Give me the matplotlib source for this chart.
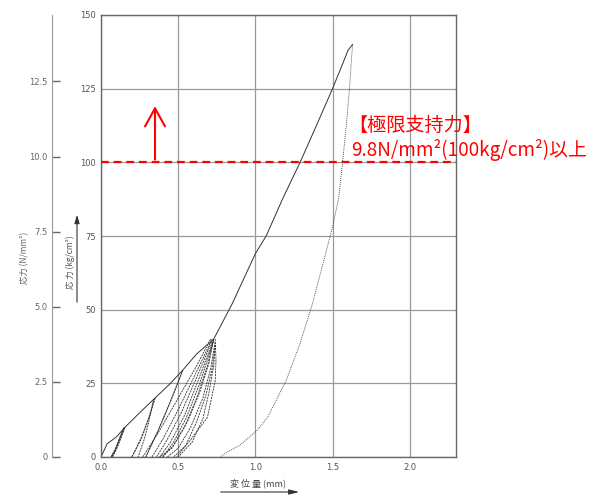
import matplotlib.pyplot as plt

# Load-displacement record (kg/cm2 vs mm)
envelope_x = [0.00, 0.04, 0.10, 0.15, 0.25, 0.35, 0.45, 0.53, 0.62, 0.73,
              0.85, 1.00, 1.07, 1.18, 1.29, 1.40, 1.50, 1.57, 1.60, 1.63]
envelope_y = [0.0, 4.5, 6.8, 9.8, 15.0, 20.0, 25.0, 29.5, 35.0, 40.0,
              52.0, 69.0, 75.0, 88.0, 100.0, 113.0, 125.0, 134.0, 138.0, 140.0]

final_unload_x = [1.63, 1.62, 1.61, 1.59, 1.565, 1.54, 1.50, 1.44, 1.37, 1.29,
                  1.20, 1.08, 1.01, 0.90, 0.82, 0.77]
final_unload_y = [140.0, 133.0, 125.0, 113.0, 100.0, 88.0, 78.0, 66.0, 52.0, 38.6,
                  26.0, 13.5, 9.0, 4.0, 1.7, 0.0]

# repeated unload / reload cycles below the envelope
loops_x = [
    [0.15, 0.13, 0.10, 0.07],
    [0.15, 0.125, 0.095, 0.065],
    [0.07, 0.10, 0.13, 0.155],
    [0.065, 0.095, 0.125, 0.15],
    [0.075, 0.105, 0.135, 0.155],
    [0.35, 0.31, 0.26, 0.20],
    [0.20, 0.26, 0.31, 0.35],
    [0.34, 0.31, 0.28, 0.24],
    [0.53, 0.46, 0.38, 0.29],
    [0.29, 0.37, 0.45, 0.53],
    [0.27, 0.38, 0.50, 0.62, 0.71],
    [0.33, 0.40, 0.50, 0.61, 0.72],
    [0.36, 0.43, 0.52, 0.62, 0.72],
    [0.38, 0.45, 0.54, 0.63, 0.73],
    [0.40, 0.47, 0.55, 0.64, 0.73],
    [0.73, 0.70, 0.64, 0.56, 0.47, 0.40],
    [0.73, 0.69, 0.62, 0.54, 0.46, 0.38],
    [0.74, 0.71, 0.66, 0.58, 0.50, 0.43],
    [0.74, 0.72, 0.68, 0.62, 0.55, 0.47],
    [0.74, 0.73, 0.70, 0.66, 0.59, 0.50],
    [0.74, 0.745, 0.74, 0.69, 0.58, 0.49],
]
loops_y = [
    [10.0, 7.0, 3.0, 0.0],
    [10.0, 6.5, 2.5, 0.0],
    [0.0, 3.5, 7.5, 10.2],
    [0.0, 3.0, 7.0, 10.0],
    [0.0, 3.2, 7.2, 10.0],
    [20.0, 13.0, 6.0, 0.0],
    [0.0, 6.5, 13.5, 20.0],
    [19.5, 12.0, 6.0, 0.0],
    [29.5, 20.0, 10.0, 0.0],
    [0.0, 9.0, 19.0, 29.5],
    [0.0, 9.0, 20.0, 31.0, 40.0],
    [0.0, 6.0, 16.0, 28.0, 40.0],
    [0.0, 6.0, 15.0, 27.0, 39.5],
    [0.0, 5.0, 14.0, 26.0, 40.0],
    [0.0, 5.0, 13.0, 25.0, 39.5],
    [40.0, 32.0, 22.0, 12.0, 4.0, 0.0],
    [40.0, 31.0, 20.0, 10.0, 3.0, 0.0],
    [39.0, 30.0, 20.0, 10.0, 3.0, 0.0],
    [38.0, 30.0, 21.0, 12.0, 4.0, 0.0],
    [38.0, 31.0, 22.0, 13.0, 5.0, 0.0],
    [40.0, 33.0, 26.0, 13.5, 5.8, 0.0],
]

x_ticks = [0.0, 0.5, 1.0, 1.5, 2.0]
x_tick_labels = ['0.0', '0.5', '1.0', '1.5', '2.0']
y_ticks = [0, 25, 50, 75, 100, 125, 150]
y_tick_labels = ['0', '25', '50', '75', '100', '125', '150']
n_ticks = [0, 2.5, 5.0, 7.5, 10.0, 12.5]
n_tick_labels = ['0', '2.5', '5.0', '7.5', '10.0', '12.5']

limit_load = 100      # kg/cm2 (9.8 N/mm2)
arrow_x, arrow_top = 0.35, 120
KG_PER_N = 10.197

cjk = ['Noto Sans CJK JP', 'DejaVu Sans']
W, H = 594, 496


def fx(px):
    return px / W


def fy(py):
    return 1 - py / H


fig = plt.figure(figsize=(W / 100, H / 100), dpi=100)
ax = fig.add_axes([fx(101), fy(457), (456 - 101) / W, (457 - 15) / H])
ax.set_xlim(0, 2.3)
ax.set_ylim(0, 150)

ax.set_xticks(x_ticks)
ax.set_xticklabels(x_tick_labels)
ax.set_yticks(y_ticks)
ax.set_yticklabels(y_tick_labels)
ax.tick_params(length=0, labelsize=6, colors='#555', pad=4)
ax.grid(True, color='#999', lw=0.9)
for s in ax.spines.values():
    s.set_color('#666')
    s.set_linewidth(1.0)

line_kw = dict(color='#333', lw=0.6, ls=(0, (2.5, 1)))
ax.plot(envelope_x, envelope_y, color='#333', lw=0.7)
ax.plot(final_unload_x, final_unload_y, color='#444', lw=0.6, ls=(0, (1.2, 1.2)))
for lx, ly in zip(loops_x, loops_y):
    ax.plot(lx, ly, **line_kw)

# secondary N/mm2 scale on the far left
sec = ax.secondary_yaxis(-49 / 355, functions=(lambda y: y / KG_PER_N,
                                              lambda y: y * KG_PER_N))
sec.set_yticks(n_ticks)
sec.set_yticklabels(n_tick_labels)
sec.tick_params(direction='in', length=6, width=1, colors='#666',
                labelsize=6, pad=3)
sec.spines['left'].set_color('#999')

# axis titles
fig.text(fx(25), fy(258), '応力 (N/mm²)', rotation=90, ha='center',
         va='center', fontsize=6, color='#666', family=cjk)
fig.text(fx(70), fy(262), '応 力 (kg/cm²)', rotation=90, ha='center',
         va='center', fontsize=6, color='#555', family=cjk)
fig.add_artist(plt.matplotlib.patches.FancyArrowPatch(
    (fx(77), fy(305)), (fx(77), fy(212)), transform=fig.transFigure,
    arrowstyle='-|>,head_length=0.5,head_width=0.15', mutation_scale=10,
    color='#333', lw=0.8))
fig.text(fx(258), fy(483), '変 位 量 (mm)', ha='center', va='center',
         fontsize=6.5, color='#444', family=cjk)
fig.add_artist(plt.matplotlib.patches.FancyArrowPatch(
    (fx(218), fy(492)), (fx(302), fy(492)), transform=fig.transFigure,
    arrowstyle='-|>,head_length=0.6,head_width=0.15', mutation_scale=10,
    color='#333', lw=0.8))

# red annotation: ultimate bearing capacity
ax.axhline(limit_load, color='red', lw=1.6, ls=(0, (3.5, 2.2)), zorder=5)
ax.annotate('', xy=(arrow_x, arrow_top), xytext=(arrow_x, limit_load),
            arrowprops=dict(arrowstyle='->,head_length=0.65,head_width=0.36',
                            mutation_scale=20, color='red', lw=1.5))
fig.text(fx(348), fy(125), '【極限支持力】', ha='left', va='center',
         fontsize=13.8, color='red', family=cjk)
fig.text(fx(351), fy(150), '9.8N/mm²(100kg/cm²)以上', ha='left', va='center',
         fontsize=13.6, color='red', family=cjk)

fig.savefig('out.png', dpi=100)
